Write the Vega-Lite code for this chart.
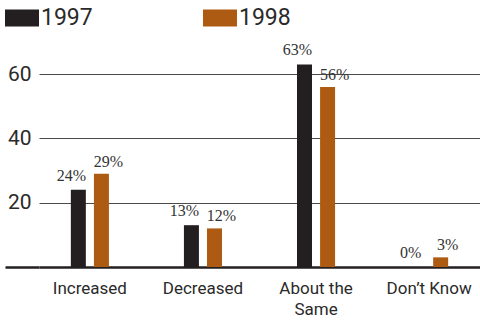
{
  "$schema": "https://vega.github.io/schema/vega-lite/v6.json",
  "width": 441,
  "height": 209,
  "autosize": {"type": "none"},
  "padding": {"left": 39, "top": 58, "right": 0, "bottom": 57},
  "background": "white",
  "config": {"view": {"stroke": null}},
  "data": {
    "values": [
      {"category": "Increased", "year": "1997", "value": 24},
      {"category": "Increased", "year": "1998", "value": 29},
      {"category": "Decreased", "year": "1997", "value": 13},
      {"category": "Decreased", "year": "1998", "value": 12},
      {"category": "About the Same", "year": "1997", "value": 63},
      {"category": "About the Same", "year": "1998", "value": 56},
      {"category": "Don’t Know", "year": "1997", "value": 0},
      {"category": "Don’t Know", "year": "1998", "value": 3}
    ]
  },
  "encoding": {
    "x": {
      "field": "category",
      "type": "nominal",
      "sort": null,
      "scale": {"paddingInner": 0.5, "paddingOuter": 0.2},
      "axis": {
        "title": null,
        "domain": false,
        "ticks": false,
        "labelAngle": 0,
        "labelPadding": 13,
        "labelFont": "Roboto",
        "labelFontSize": 17,
        "labelLineHeight": 21,
        "labelColor": "#2a2a2a",
        "labelBaseline": "top",
        "labelExpr": "datum.label == 'About the Same' ? ['About the', 'Same'] : datum.label"
      }
    },
    "xOffset": {
      "field": "year",
      "type": "nominal",
      "scale": {"paddingInner": 0.35, "paddingOuter": 0.4}
    },
    "y": {
      "field": "value",
      "type": "quantitative",
      "scale": {"domain": [0, 65], "nice": false},
      "axis": {
        "title": null,
        "values": [0, 20, 40, 60],
        "domain": false,
        "grid": true,
        "gridColor": {"condition": {"test": "datum.value === 0", "value": "#231f20"}, "value": "#4a4a4a"},
        "gridWidth": {"condition": {"test": "datum.value === 0", "value": 2.5}, "value": 1},
        "ticks": true,
        "tickSize": 34,
        "tickColor": {"condition": {"test": "datum.value === 0", "value": "#231f20"}, "value": "transparent"},
        "tickWidth": 2.5,
        "labelPadding": -26,
        "labelExpr": "datum.value === 0 ? '' : datum.label",
        "labelFont": "Roboto",
        "labelFontSize": 21,
        "labelColor": "#2a2a2a"
      }
    }
  },
  "layer": [
    {
      "mark": {"type": "bar"},
      "encoding": {
        "color": {
          "field": "year",
          "type": "nominal",
          "scale": {"domain": ["1997", "1998"], "range": ["#231f20", "#ad5b12"]},
          "legend": {
            "title": null,
            "orient": "none",
            "legendX": -34,
            "legendY": -57,
            "direction": "horizontal",
            "columnPadding": 110,
            "symbolType": "M-1,-0.5H1V0.5H-1Z",
            "symbolSize": 1156,
            "symbolStrokeWidth": 0,
            "labelOffset": 2,
            "labelFont": "Roboto",
            "labelFontSize": 23,
            "labelColor": "#2a2a2a"
          }
        }
      }
    },
    {
      "transform": [{"filter": "datum.year == '1997'"}],
      "mark": {
        "type": "text",
        "baseline": "bottom",
        "dy": -6,
        "dx": -7,
        "font": "Liberation Serif",
        "fontSize": 16,
        "color": "#333333",
        "text": {"expr": "datum.value + '%'"}
      }
    },
    {
      "transform": [{"filter": "datum.year == '1998'"}],
      "mark": {
        "type": "text",
        "baseline": "bottom",
        "dy": -4,
        "dx": 7,
        "font": "Liberation Serif",
        "fontSize": 16,
        "color": "#333333",
        "text": {"expr": "datum.value + '%'"}
      }
    }
  ]
}
